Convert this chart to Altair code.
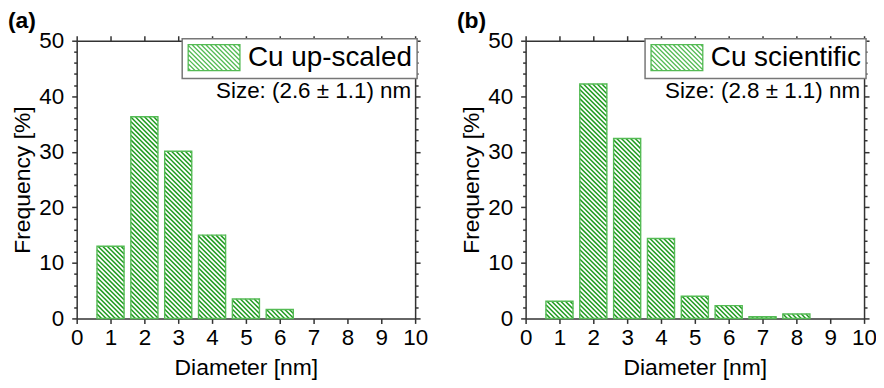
import altair as alt
import pandas as pd

# ---------------- data ----------------
diam_a = [1, 2, 3, 4, 5, 6]
freq_a = [13.0, 36.3, 30.1, 15.0, 3.5, 1.6]
diam_b = [1, 2, 3, 4, 5, 6, 7, 8]
freq_b = [3.1, 42.2, 32.4, 14.4, 4.0, 2.3, 0.3, 0.8]
series_a = "Cu up-scaled"
series_b = "Cu scientific"
size_a = "Size: (2.6 ± 1.1) nm"
size_b = "Size: (2.8 ± 1.1) nm"
tag_a = "(a)"
tag_b = "(b)"
x_ticks = [0, 1, 2, 3, 4, 5, 6, 7, 8, 9, 10]
y_major = [0, 10, 20, 30, 40, 50]
y_minor = [2, 4, 6, 8, 12, 14, 16, 18, 22, 24, 26, 28, 32, 34, 36, 38, 42, 44, 46, 48]

# ---------------- style ----------------
W, H = 340, 279
FONT = "Liberation Sans"
BAR_W = 0.8
STEP = 4.6            # hatch spacing along the axis (px)
HATCH = "#1f9a1f"
OUTLINE = "#55bb55"
AXC = "#333333"

SX = W / 10.0
SY = H / 50.0

SW_H = 26.0           # swatch height (px); width is twice this
SW_R = SW_H / 2.0     # path scale factor (sqrt(size)/2)


def swatch_path():
    # rectangle spans x in [-1, 3], y in [-1, 1] (path units) -> 2*SW_H by SW_H px
    parts = ["M-1,-1L3,-1L3,1L-1,1Z"]
    st = STEP / SW_R
    k = -2 + st / 2
    while k < 4:
        y0 = max(-1.0, -1 - k)
        y1 = min(1.0, 3 - k)
        if y1 > y0:
            parts.append(f"M{y0 + k:.3f},{y0:.3f}L{y1 + k:.3f},{y1:.3f}")
        k += st
    return "".join(parts)


SWATCH = swatch_path()


def axis_common(**kw):
    base = dict(domainColor=AXC, domainWidth=1.5, tickColor=AXC, tickWidth=1.5,
                grid=False, labelFont=FONT, titleFont=FONT, labelColor="black",
                titleColor="black", labelFlush=False, labelOverlap=False)
    base.update(kw)
    return alt.Axis(**base)


def panel(diam, freq, series, size_text, tag):
    df = pd.DataFrame({"d": diam, "f": freq, "s": [series] * len(diam)})
    xs = alt.Scale(domain=[0, 10], nice=False, zero=False)
    ys = alt.Scale(domain=[0, 50], nice=False)
    base = alt.Chart(df).transform_calculate(
        x0=f"datum.d - {BAR_W / 2}", x1=f"datum.d + {BAR_W / 2}", z="0"
    )

    fillbars = base.mark_bar(fill="white", strokeWidth=0).encode(
        x=alt.X("x0:Q", scale=xs, axis=axis_common(
            orient="bottom", values=x_ticks, format="d", tickSize=5,
            labelFontSize=22.5, labelPadding=3, title="Diameter [nm]",
            titleFontSize=23, titleFontWeight="normal", titlePadding=8)),
        x2="x1:Q",
        y=alt.Y("f:Q", scale=ys, axis=axis_common(
            orient="left", values=y_major, format="d", tickSize=5,
            labelFontSize=22.5, labelPadding=8, title="Frequency [%]",
            titleFontSize=23, titleFontWeight="normal", titlePadding=4)),
        y2="z:Q",
    )

    hatch = base.transform_calculate(
        bw=f"{BAR_W * SX}", bh=f"datum.f * {SY}"
    ).transform_calculate(
        ks=f"sequence(1, ceil((datum.bw + datum.bh) / {STEP}))"
    ).transform_flatten(["ks"]).transform_calculate(
        k=f"datum.ks * {STEP}"
    ).transform_calculate(
        u0="max(0, datum.k - datum.bh)", u1="min(datum.bw, datum.k)"
    ).transform_calculate(
        hx=f"datum.x0 + datum.u0 / {SX}",
        hy=f"(datum.k - datum.u0) / {SY}",
        hx2=f"datum.x0 + datum.u1 / {SX}",
        hy2=f"(datum.k - datum.u1) / {SY}",
    ).mark_rule(color=HATCH, strokeWidth=1.5).encode(
        x=alt.X("hx:Q", scale=xs, axis=axis_common(
            orient="top", values=x_ticks, labels=False, tickSize=5, title=None)),
        x2="hx2:Q",
        y=alt.Y("hy:Q", scale=ys, axis=axis_common(
            orient="right", values=y_major, labels=False, tickSize=5, title=None)),
        y2="hy2:Q",
    )

    outline = base.mark_bar(fill=None, fillOpacity=0, strokeWidth=1.4).encode(
        x=alt.X("x0:Q", scale=xs, axis=None),
        x2="x1:Q",
        y=alt.Y("f:Q", scale=ys, axis=axis_common(
            orient="left", values=y_minor, labels=False, tickSize=3,
            domain=False, title=None)),
        y2="z:Q",
        stroke=alt.Stroke("s:N", scale=alt.Scale(range=[OUTLINE]), legend=alt.Legend(
            orient="top-right", offset=-2, title=None, symbolType=SWATCH,
            symbolSize=SW_H * SW_H, symbolStrokeWidth=1.3, symbolFillColor="white",
            labelFont=FONT, labelFontSize=28, labelColor="black",
            labelOffset=SW_H + 7, labelLimit=400,
            padding=5, strokeColor="#777777", fillColor="white")),
    )

    minor_r = base.mark_point(opacity=0).encode(
        x=alt.X("d:Q", scale=xs, axis=None),
        y=alt.Y("f:Q", scale=ys, axis=axis_common(
            orient="right", values=y_minor, labels=False, tickSize=3,
            domain=False, title=None)),
    )

    size_lbl = alt.Chart(pd.DataFrame({"t": [size_text]})).mark_text(
        align="right", baseline="alphabetic", font=FONT, fontSize=22.5, color="black"
    ).encode(text="t:N", x=alt.value(W - 4), y=alt.value(58))

    tag_lbl = alt.Chart(pd.DataFrame({"t": [tag]})).mark_text(
        align="left", baseline="alphabetic", font=FONT, fontSize=23,
        fontWeight="bold", color="black"
    ).encode(text="t:N", x=alt.value(-69), y=alt.value(-13))

    return alt.layer(fillbars, hatch, outline, minor_r, size_lbl, tag_lbl).resolve_axis(
        x="independent", y="independent"
    ).properties(width=W, height=H)


pa = panel(diam_a, freq_a, series_a, size_a, tag_a)
pb = panel(diam_b, freq_b, series_b, size_b, tag_b)

chart = alt.hconcat(pa, pb, spacing=29).resolve_scale(
    stroke="independent"
).resolve_legend(stroke="independent").properties(
    padding={"left": 0, "top": 1, "right": -1, "bottom": 0},
    background="white",
).configure_view(stroke=None).configure_legend(strokeWidth=1.5)

chart.save("out.html", embed_options={"renderer": "svg", "actions": False})
